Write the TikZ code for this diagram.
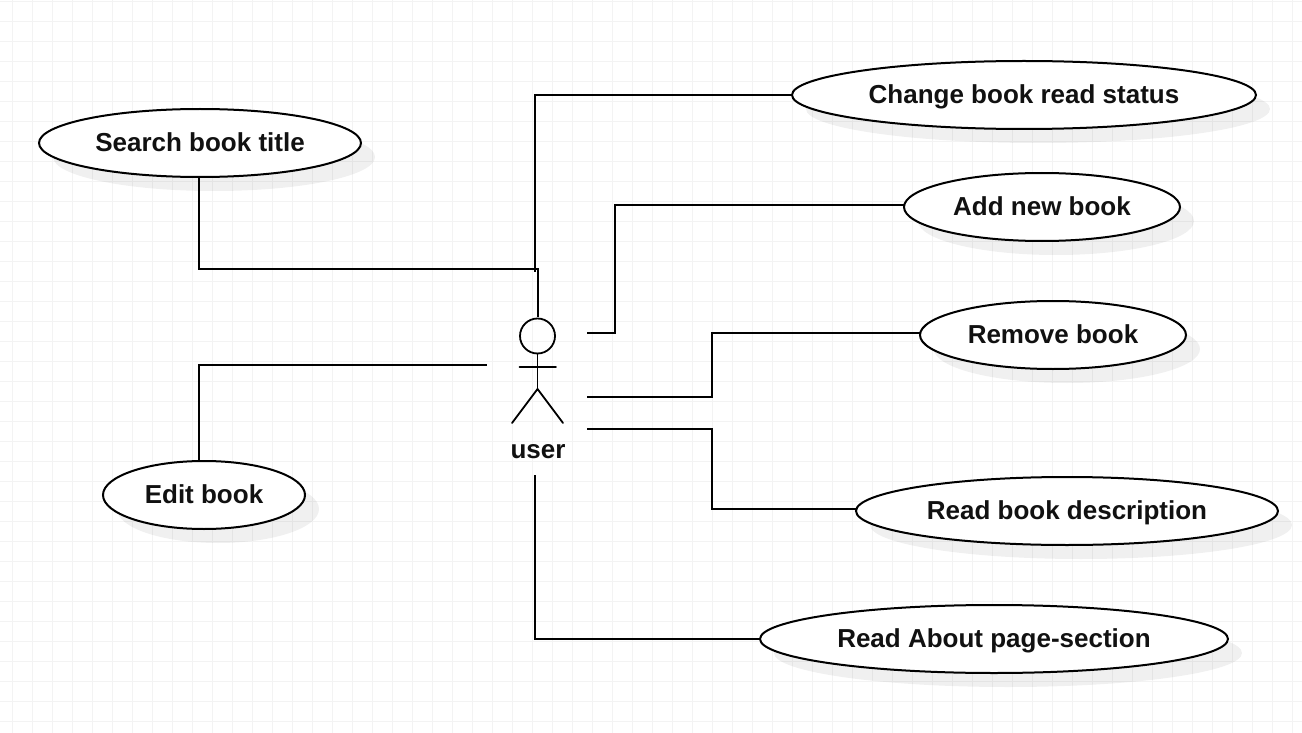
\documentclass[tikz,border=0pt]{standalone}
\usepackage{fontspec}
\setmainfont{Liberation Sans}
\usetikzlibrary{shapes.geometric,shadows}
\definecolor{gridline}{HTML}{F3F3F3}
\definecolor{inkline}{HTML}{111111}

\begin{document}
\begin{tikzpicture}[
  x=1pt,y=-1pt,
  font=\fontsize{26}{30}\selectfont\bfseries,
  every node/.style={align=center,text=inkline},
  usecase/.style={draw,ellipse,line width=2pt,fill=white,inner sep=0pt,outer sep=0pt,
    text height=23.5pt,text depth=6pt,
    drop shadow={shadow xshift=14pt,shadow yshift=-14pt,fill=black,opacity=.06}},
  actorpart/.style={line width=1.8pt,line cap=round},
  to/.style={line width=2pt,line join=miter},
  gridpen/.style={gridline,line width=.9pt}]
  \useasboundingbox (0,0) rectangle (1302,733);
  \fill[white] (0,0) rectangle (1302,733);
% Background grid
  \foreach \gx in {12,32,...,1292} {\draw[gridpen] (\gx,0) -- (\gx,733);}
  \foreach \gy in {1,21,...,721} {\draw[gridpen] (0,\gy) -- (1302,\gy);}

% Use cases
  \node[usecase,minimum width=322pt,minimum height=68pt] (SearchTitle) at (200,143) {Search book title};
  \node[usecase,minimum width=464pt,minimum height=68pt] (ChangeStatus) at (1024,95) {Change book read status};
  \node[usecase,minimum width=276pt,minimum height=68pt] (AddBook) at (1042,207) {Add new book};
  \node[usecase,minimum width=266pt,minimum height=68pt] (RemoveBook) at (1053,335) {Remove book};
  \node[usecase,minimum width=422pt,minimum height=68pt] (ReadDescr) at (1067,511) {Read book description};
  \node[usecase,minimum width=468pt,minimum height=68pt] (ReadAbout) at (994,639) {Read About page-section};
  \node[usecase,minimum width=202pt,minimum height=68pt] (EditBook) at (204,495) {Edit book};

% The actor
  \node[draw,circle,line width=1.8pt,minimum size=35pt,inner sep=0pt,outer sep=0pt] (UserHead) at (537.5,336) {};
  \coordinate (UserHip) at (537.5,389);
  \coordinate (UserFootL) at (512,423);
  \coordinate (UserFootR) at (563,423);
  \coordinate (UserArmL) at (519.5,367);
  \coordinate (UserArmR) at (556,367);
  \draw[actorpart] (UserHead.south) -- (UserHip);
  \draw[actorpart] (UserArmL) -- (UserArmR);
  \draw[actorpart] (UserFootL) -- (UserHip) -- (UserFootR);
  \node (UserLabel) at (538,452) {user};

% Free ends next to the actor
  \coordinate (TopEnd) at (538,317);
  \coordinate (TopJoin) at (538,269);
  \coordinate (ChangeEnd) at (535,272);
  \coordinate (AddEnd) at (587,333);
  \coordinate (RemoveEnd) at (587,397);
  \coordinate (DescrEnd) at (587,429);
  \coordinate (AboutEnd) at (535,475);
  \coordinate (EditEnd) at (487,365);

% Connectors
  \draw[to] ([xshift=-1pt]SearchTitle.south) |- (TopJoin) -- (TopEnd);
  \draw[to] (ChangeStatus.west) -| (ChangeEnd);
  \draw[to] ([yshift=2pt]AddBook.west) -- (615,205) |- (AddEnd);
  \draw[to] ([yshift=2pt]RemoveBook.west) -- (711.5,333) |- (RemoveEnd);
  \draw[to] ([yshift=2pt]ReadDescr.west) -- (711.5,509) |- (DescrEnd);
  \draw[to] (ReadAbout.west) -| (AboutEnd);
  \draw[to] ([xshift=-5pt]EditBook.north) |- (EditEnd);
\end{tikzpicture}
\end{document}
